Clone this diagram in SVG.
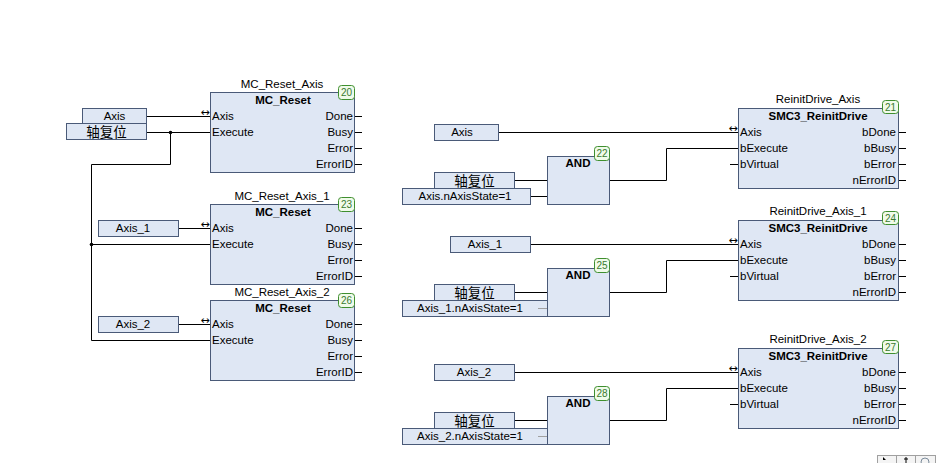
<svg xmlns="http://www.w3.org/2000/svg" width="950" height="463" viewBox="0 0 950 463">
<style>
  .fb{fill:#dfe7f4;stroke:#4a5a78;stroke-width:1}
  .var{fill:#dfe7f4;stroke:#4a5a78;stroke-width:1}
  .badge{fill:#f0fbea;stroke:#3f8f2f;stroke-width:1}
  .bt{font-family:"Liberation Sans",Arial,sans-serif;font-size:10px;fill:#3a7a30;text-anchor:middle}
  .t{font-family:"Liberation Sans",Arial,sans-serif;font-size:11.5px;fill:#000}
  .c{text-anchor:middle}
  .r{text-anchor:end}
  .h{font-family:"Liberation Sans",Arial,sans-serif;font-size:11.5px;font-weight:bold;fill:#000;text-anchor:middle}
  .cn{font-family:"Noto Sans CJK SC","Liberation Sans",sans-serif;font-size:13.5px;fill:#000;text-anchor:middle}
  .w{fill:none;stroke:#000;stroke-width:1}
  .g{fill:none;stroke:#a0a0a0;stroke-width:1}
  .io{font-family:"DejaVu Sans",sans-serif;font-size:11px;fill:#000;text-anchor:middle}
</style>
<rect width="950" height="463" fill="#ffffff"/>

<g id="connectors">
  <path class="w" d="M147 116.5H210"/>
  <path class="w" d="M147 132.5H210"/>
  <path class="w" d="M170.5 132.5V164.5H91.5V340.5H210"/>
  <path class="w" d="M91.5 244.5H210"/>
  <path class="w" d="M178 228.5H210"/>
  <path class="w" d="M178 324.5H210"/>
  <circle cx="170.5" cy="132.5" r="1.8" fill="#000"/>
  <circle cx="91.5" cy="244.5" r="1.8" fill="#000"/>
  <path class="w" d="M355 116.5H362M355 132.5H362M355 148.5H362M355 164.5H362"/>
  <path class="w" d="M355 228.5H362M355 244.5H362M355 260.5H362M355 276.5H362"/>
  <path class="w" d="M355 324.5H362M355 340.5H362M355 356.5H362M355 372.5H362"/>
  <path class="w" d="M498 132.5H738"/>
  <path class="w" d="M514 180.5H547"/>
  <path class="w" d="M531 196.5H547"/>
  <path class="w" d="M610 180.5H666.5V148.5H738"/>
  <path class="w" d="M730 164.5H738"/>
  <path class="w" d="M898 132.5H906M898 148.5H906M898 164.5H906M898 180.5H906"/>
  <path class="w" d="M531 244.5H738"/>
  <path class="w" d="M514 292.5H547"/>
  <path class="w" d="M610 292.5H666.5V260.5H738"/>
  <path class="w" d="M730 276.5H738"/>
  <path class="w" d="M898 244.5H906M898 260.5H906M898 276.5H906M898 292.5H906"/>
  <path class="w" d="M514 372.5H738"/>
  <path class="w" d="M514 420.5H547"/>
  <path class="w" d="M610 420.5H666.5V388.5H738"/>
  <path class="w" d="M730 404.5H738"/>
  <path class="w" d="M898 372.5H906M898 388.5H906M898 404.5H906M898 420.5H906"/>
</g>

<g id="var_axis_l">
  <rect class="var" x="82.5" y="108.5" width="64" height="15"/>
  <text class="t c" x="114.5" y="120">Axis</text>
</g>
<g id="var_reset_l">
  <rect class="var" x="66.5" y="123.5" width="80" height="16"/>
  <text class="cn" x="106.5" y="137">轴复位</text>
</g>
<g id="var_axis1_l">
  <rect class="var" x="98.5" y="220.5" width="80" height="16"/>
  <text class="t c" x="133" y="232">Axis_1</text>
</g>
<g id="var_axis2_l">
  <rect class="var" x="98.5" y="316.5" width="80" height="16"/>
  <text class="t c" x="133" y="328">Axis_2</text>
</g>

<g id="fb20">
  <text class="t c" x="282" y="88">MC_Reset_Axis</text>
  <rect class="fb" x="210.5" y="92.5" width="144" height="80"/>
  <text class="h" x="283" y="104">MC_Reset</text>
  <text class="io" x="205" y="116">↔</text>
  <text class="t" x="212" y="120">Axis</text>
  <text class="t" x="212" y="136">Execute</text>
  <text class="t r" x="353" y="120">Done</text>
  <text class="t r" x="353" y="136">Busy</text>
  <text class="t r" x="353" y="152">Error</text>
  <text class="t r" x="353" y="168">ErrorID</text>
  <rect class="badge" x="338.5" y="85.5" width="16" height="14" rx="3"/>
  <text class="bt" x="346.5" y="96">20</text>
</g>
<g id="fb23">
  <text class="t c" x="282" y="200">MC_Reset_Axis_1</text>
  <rect class="fb" x="210.5" y="204.5" width="144" height="80"/>
  <text class="h" x="283" y="216">MC_Reset</text>
  <text class="io" x="205" y="228">↔</text>
  <text class="t" x="212" y="232">Axis</text>
  <text class="t" x="212" y="248">Execute</text>
  <text class="t r" x="353" y="232">Done</text>
  <text class="t r" x="353" y="248">Busy</text>
  <text class="t r" x="353" y="264">Error</text>
  <text class="t r" x="353" y="280">ErrorID</text>
  <rect class="badge" x="338.5" y="197.5" width="16" height="14" rx="3"/>
  <text class="bt" x="346.5" y="208">23</text>
</g>
<g id="fb26">
  <text class="t c" x="282" y="296">MC_Reset_Axis_2</text>
  <rect class="fb" x="210.5" y="300.5" width="144" height="80"/>
  <text class="h" x="283" y="312">MC_Reset</text>
  <text class="io" x="205" y="324">↔</text>
  <text class="t" x="212" y="328">Axis</text>
  <text class="t" x="212" y="344">Execute</text>
  <text class="t r" x="353" y="328">Done</text>
  <text class="t r" x="353" y="344">Busy</text>
  <text class="t r" x="353" y="360">Error</text>
  <text class="t r" x="353" y="376">ErrorID</text>
  <rect class="badge" x="338.5" y="293.5" width="16" height="14" rx="3"/>
  <text class="bt" x="346.5" y="304">26</text>
</g>

<g id="var_axis_r">
  <rect class="var" x="434.5" y="124.5" width="64" height="16"/>
  <text class="t c" x="462" y="136">Axis</text>
</g>
<g id="var_reset_r1">
  <rect class="var" x="434.5" y="172.5" width="80" height="16"/>
  <text class="cn" x="474.5" y="186">轴复位</text>
</g>
<g id="var_state_r1">
  <rect class="var" x="402.5" y="188.5" width="128" height="16"/>
  <text class="t c" x="465" y="200">Axis.nAxisState=1</text>
</g>
<g id="and22">
  <rect class="fb" x="547.5" y="156.5" width="62" height="48"/>
  <text class="h" x="578" y="167">AND</text>
  <rect class="badge" x="594.5" y="146.5" width="15" height="14" rx="3"/>
  <text class="bt" x="602" y="157">22</text>
</g>
<g id="fb21">
  <text class="t c" x="818" y="103">ReinitDrive_Axis</text>
  <rect class="fb" x="738.5" y="108.5" width="160" height="80"/>
  <text class="h" x="818" y="120">SMC3_ReinitDrive</text>
  <text class="io" x="733" y="132">↔</text>
  <text class="t" x="740" y="136">Axis</text>
  <text class="t" x="740" y="152">bExecute</text>
  <text class="t" x="740" y="168">bVirtual</text>
  <text class="t r" x="896" y="136">bDone</text>
  <text class="t r" x="896" y="152">bBusy</text>
  <text class="t r" x="896" y="168">bError</text>
  <text class="t r" x="896" y="184">nErrorID</text>
  <rect class="badge" x="882.5" y="100.5" width="16" height="13" rx="3"/>
  <text class="bt" x="890.5" y="110.5">21</text>
</g>

<g id="var_axis1_r">
  <rect class="var" x="450.5" y="236.5" width="80" height="16"/>
  <text class="t c" x="485" y="248">Axis_1</text>
</g>
<g id="var_reset_r2">
  <rect class="var" x="434.5" y="284.5" width="80" height="16"/>
  <text class="cn" x="474.5" y="298">轴复位</text>
</g>
<g id="var_state_r2">
  <rect class="var" x="402.5" y="300.5" width="145" height="16"/>
  <text class="t c" x="470" y="312">Axis_1.nAxisState=1</text>
  <path class="g" d="M538 308.5H555"/>
</g>
<g id="and25">
  <rect class="fb" x="547.5" y="268.5" width="62" height="48"/>
  <text class="h" x="578" y="279">AND</text>
  <rect class="badge" x="594.5" y="258.5" width="15" height="14" rx="3"/>
  <text class="bt" x="602" y="269">25</text>
</g>
<g id="fb24">
  <text class="t c" x="818" y="215">ReinitDrive_Axis_1</text>
  <rect class="fb" x="738.5" y="220.5" width="160" height="80"/>
  <text class="h" x="818" y="232">SMC3_ReinitDrive</text>
  <text class="io" x="733" y="244">↔</text>
  <text class="t" x="740" y="248">Axis</text>
  <text class="t" x="740" y="264">bExecute</text>
  <text class="t" x="740" y="280">bVirtual</text>
  <text class="t r" x="896" y="248">bDone</text>
  <text class="t r" x="896" y="264">bBusy</text>
  <text class="t r" x="896" y="280">bError</text>
  <text class="t r" x="896" y="296">nErrorID</text>
  <rect class="badge" x="882.5" y="211.5" width="16" height="13" rx="3"/>
  <text class="bt" x="890.5" y="221.5">24</text>
</g>

<g id="var_axis2_r">
  <rect class="var" x="434.5" y="364.5" width="80" height="16"/>
  <text class="t c" x="474" y="376">Axis_2</text>
</g>
<g id="var_reset_r3">
  <rect class="var" x="434.5" y="412.5" width="80" height="16"/>
  <text class="cn" x="474.5" y="426">轴复位</text>
</g>
<g id="var_state_r3">
  <rect class="var" x="402.5" y="428.5" width="145" height="16"/>
  <text class="t c" x="470" y="440">Axis_2.nAxisState=1</text>
  <path class="g" d="M538 436.5H555"/>
</g>
<g id="and28">
  <rect class="fb" x="547.5" y="396.5" width="62" height="48"/>
  <text class="h" x="578" y="407">AND</text>
  <rect class="badge" x="594.5" y="386.5" width="15" height="14" rx="3"/>
  <text class="bt" x="602" y="397">28</text>
</g>
<g id="fb27">
  <text class="t c" x="818" y="343">ReinitDrive_Axis_2</text>
  <rect class="fb" x="738.5" y="348.5" width="160" height="80"/>
  <text class="h" x="818" y="360">SMC3_ReinitDrive</text>
  <text class="io" x="733" y="372">↔</text>
  <text class="t" x="740" y="376">Axis</text>
  <text class="t" x="740" y="392">bExecute</text>
  <text class="t" x="740" y="408">bVirtual</text>
  <text class="t r" x="896" y="376">bDone</text>
  <text class="t r" x="896" y="392">bBusy</text>
  <text class="t r" x="896" y="408">bError</text>
  <text class="t r" x="896" y="424">nErrorID</text>
  <rect class="badge" x="882.5" y="340.5" width="16" height="13" rx="3"/>
  <text class="bt" x="890.5" y="350.5">27</text>
</g>

<g id="toolbar">
  <rect x="877.5" y="455.5" width="19" height="10" fill="#f4f4f4" stroke="#a0a0a0"/>
  <rect x="896.5" y="455.5" width="19" height="10" fill="#f4f4f4" stroke="#a0a0a0"/>
  <rect x="915.5" y="455.5" width="20" height="10" fill="#f4f4f4" stroke="#a0a0a0"/>
  <path d="M883 457L886 460L883 460Z" fill="#000"/>
  <path d="M906 457V463M904 459H908" stroke="#000" fill="none"/>
  <circle cx="925" cy="462" r="4" fill="none" stroke="#7a8a9a"/>
</g>
</svg>
